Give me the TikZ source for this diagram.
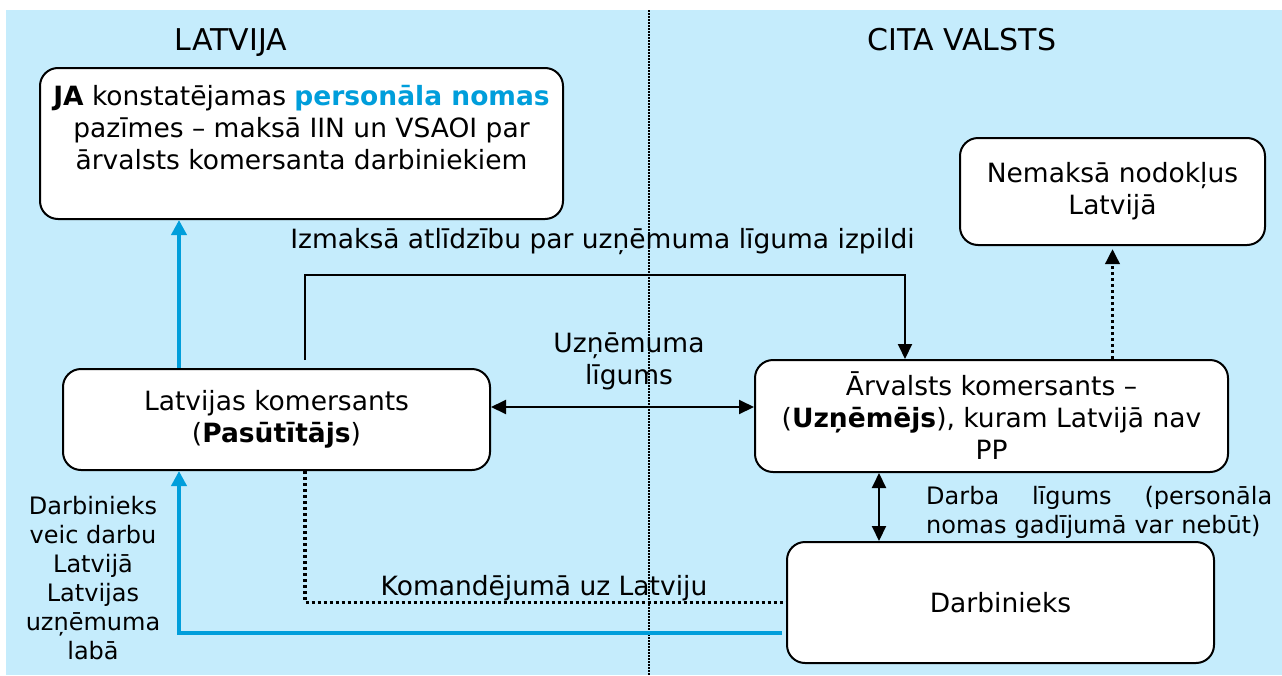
\documentclass[tikz,border=0pt]{standalone}
\usepackage{fontspec}
\setmainfont{DejaVu Sans}
\usetikzlibrary{arrows.meta}
\definecolor{bgblue}{RGB}{197,236,252}
\definecolor{keyblue}{RGB}{0,158,219}
\newcommand{\bodyfont}{\fontsize{26.5}{32}\selectfont}
\newcommand{\notefont}{\fontsize{24}{29}\selectfont}
\newcommand{\titlefont}{\fontsize{30}{36}\selectfont}
\newcommand{\wordgap}{\hskip 0pt plus 1filll\relax}
\tikzset{
	box/.style={draw, line width=2pt, fill=white, rounded corners=18pt, align=center, inner sep=0pt, font=\bodyfont},
	title/.style={font=\titlefont, inner sep=0pt, anchor=base},
	linelabel/.style={font=\bodyfont, inner sep=0pt},
	note/.style={font=\notefont, inner sep=0pt, align=center},
	link/.style={line width=2pt, -{Triangle[length=15pt,width=14pt]}},
	both/.style={line width=2pt, {Triangle[length=15pt,width=14pt]}-{Triangle[length=15pt,width=14pt]}},
	bluelink/.style={keyblue, line width=4pt, -{Triangle[length=15pt,width=15pt]}},
	dotlink/.style={line width=3.5pt, dash pattern=on 3pt off 3pt},
	divider/.style={line width=1.2pt, dash pattern=on 1.5pt off 1.5pt}
}

\begin{document}
\begin{tikzpicture}[x=1pt,y=-1pt]
\useasboundingbox (0,0) rectangle (1282,675);
\fill[bgblue] (6,10) rectangle (1282,675);
\draw[divider] (649,10) -- (649,675);

\node[title] (lv) at (231,50) {LATVIJA};
\node[title] (cv) at (962,50) {CITA VALSTS};

\node[box, minimum width=523, minimum height=151] (ja) at (301.5,143.5)
	{\textbf{JA} konstatējamas \textbf{\color{keyblue}personāla nomas}\\pazīmes – maksā IIN un VSAOI par\\ārvalsts komersanta darbiniekiem\\\mbox{}};
\node[box, minimum width=305, minimum height=107] (nem) at (1112.5,191.5) {Nemaksā nodokļus\\Latvijā};
\node[box, minimum width=427, minimum height=101] (lk) at (276.5,419.5) {Latvijas komersants\\(\textbf{Pasūtītājs})};
\node[box, minimum width=473, minimum height=112] (ar) at (991.5,416) {Ārvalsts komersants –\\(\textbf{Uzņēmējs}), kuram Latvijā nav\\PP};
\node[box, minimum width=427, minimum height=121] (db) at (1000.5,602.5) {Darbinieks};

\coordinate (blueX) at (179,0);
\coordinate (blueEnd) at (782,633);
\coordinate (payStart) at (305,360);
\coordinate (payTop) at (305,275);
\coordinate (payDown) at (905,275);
\coordinate (dealY) at (0,407);
\coordinate (jobX) at (879,0);

% maksajumi un ligumi
\draw[link] (payStart) -- (payTop) -- (payDown) -- (ar.north -| payDown);
\node[linelabel, anchor=base] (payLbl) at (602.5,248) {Izmaksā atlīdzību par uzņēmuma līguma izpildi};
\draw[both] (lk.east |- dealY) -- (ar.west |- dealY);
\node[linelabel, align=center] (dealLbl) at (629,361.5) {Uzņēmuma\\līgums};
\draw[dotlink, -{Triangle[length=15pt,width=14pt]}, shorten >=3pt] (ar.north -| nem.south) -- (nem.south);
\draw[both] (ar.south -| jobX) -- (db.north -| jobX);
\node[note, anchor=north west, text width=346pt, align=left] (jobLbl) at (926,486)
	{Darba\wordgap līgums\wordgap (personāla\\nomas gadījumā var nebūt)};

% darbinieks Latvija
\draw[dotlink] (lk.south -| payStart) |- (db.west);
\node[linelabel, anchor=base] (sendLbl) at (544,595) {Komandējumā uz Latviju};
\draw[bluelink] (lk.north -| blueX) -- (ja.south -| blueX);
\draw[bluelink] (blueEnd) -| (lk.south -| blueX);
\node[note] (workLbl) at (93,578.5) {Darbinieks\\veic darbu\\Latvijā\\Latvijas\\uzņēmuma\\labā};
\end{tikzpicture}
\end{document}
